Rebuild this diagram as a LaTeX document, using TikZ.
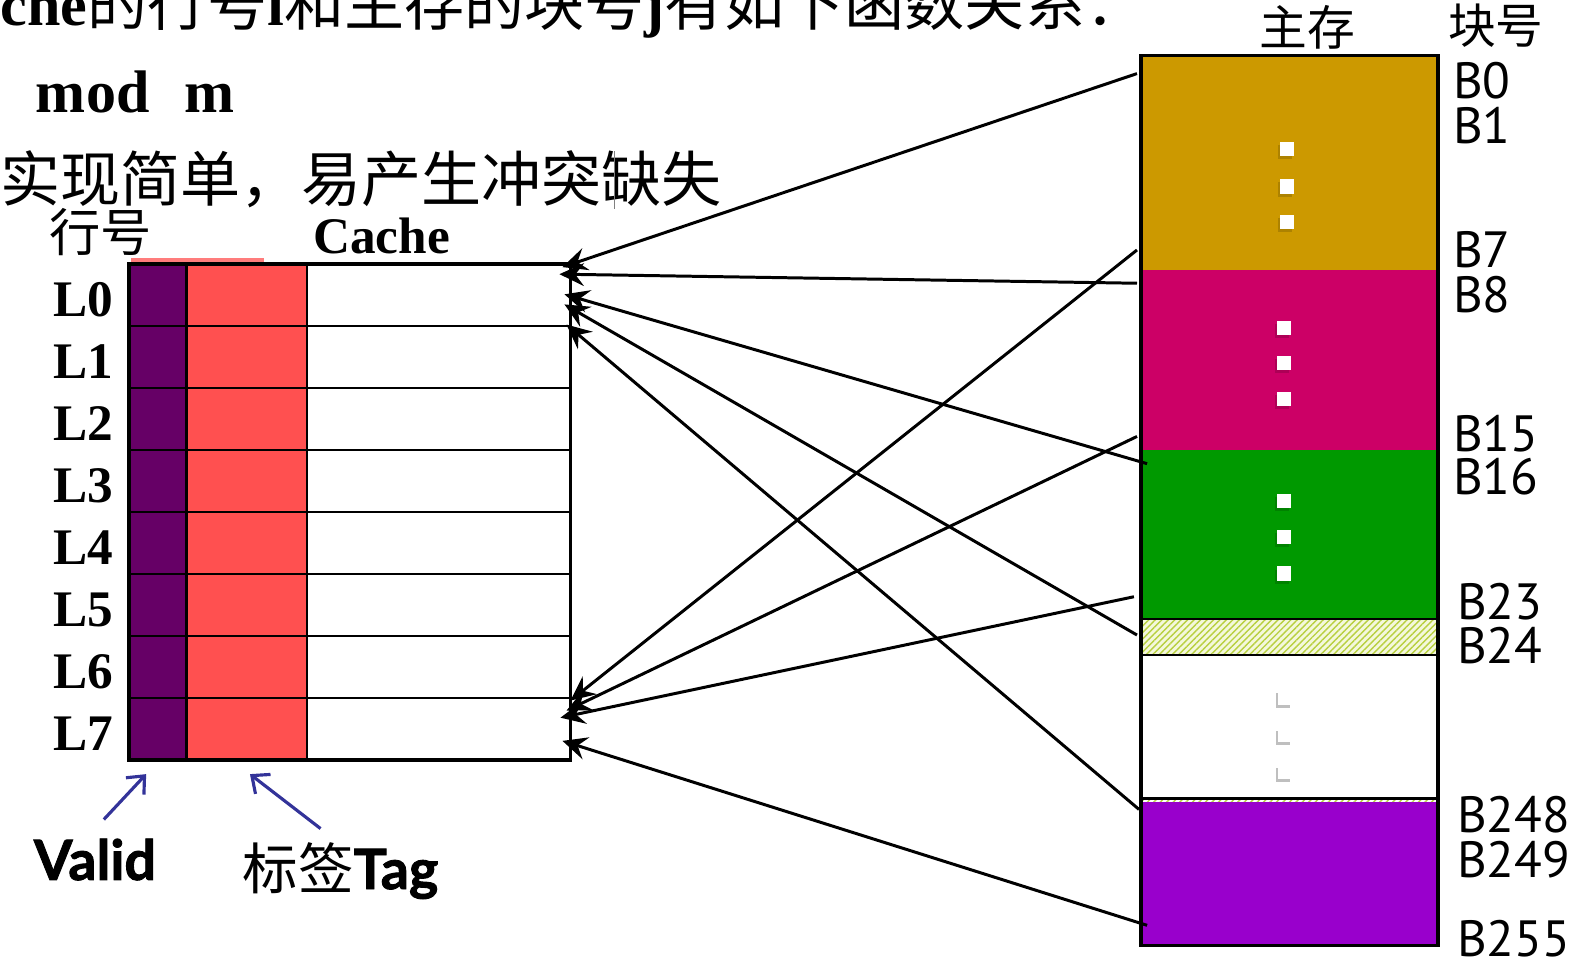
\documentclass[tikz,border=0pt]{standalone}
\usepackage{fontspec}
\setmainfont{Liberation Serif}
\newfontfamily\cjk{Noto Sans CJK SC}
\newfontfamily\blkfont{PT Sans}
\newfontfamily\lblfont[BoldFeatures={FakeBold=1.6}]{Lato}
\usetikzlibrary{arrows.meta,patterns.meta}
\definecolor{validpurple}{HTML}{660066}
\definecolor{tagred}{HTML}{FF5050}
\definecolor{goldblk}{HTML}{CC9900}
\definecolor{magblk}{HTML}{CC0066}
\definecolor{greenblk}{HTML}{009900}
\definecolor{violetblk}{HTML}{9900CC}
\definecolor{hatchline}{HTML}{B8D040}
\definecolor{hatchbg}{HTML}{F4F8DC}
\definecolor{arrowblue}{HTML}{333399}
\newcommand{\zh}[1]{{\cjk\mdseries #1}}
\begin{document}
\begin{tikzpicture}[x=0.01008cm, y=-0.01008cm,
		txt/.style={inner sep=0pt, anchor=base west},
		big/.style={font=\fontsize{17.1pt}{20pt}\selectfont},
		mid/.style={font=\fontsize{14.6pt}{17pt}\selectfont},
		blk/.style={inner sep=0pt, anchor=west, font=\blkfont\fontsize{14.5pt}{17pt}\selectfont},
		lbl/.style={inner sep=0pt, anchor=base west, font=\lblfont\bfseries\fontsize{15.8pt}{18pt}\selectfont},
		link/.style={line width=0.85pt, -{Stealth[length=7pt,width=6.5pt,inset=2.5pt]}},
		ptr/.style={line width=0.9pt, arrowblue, -{Straight Barb[length=4pt,width=7pt]}},
	]
	\useasboundingbox (0,0) rectangle (1567.5,960.3);

	% text at the top
	\node[txt, big] (head) at (0,25) {\bfseries che\zh{的行号}i\zh{和主存的块号}j\zh{有如下函数关系：}};
	\node[txt, big] (mod) at (35,112) {\bfseries mod\hspace{10pt}m};
	\node[txt, big] (note) at (0,200) {\zh{实现简单，易产生冲突缺失}};
	\draw[gray, line width=0.3pt] (610,150) -- (610,207);

	% cache
	\node[txt, mid] (linehead) at (48,250) {\zh{行号}};
	\node[txt, mid] (cachehead) at (310,251) {\bfseries Cache};
	\fill[tagred!75] (130,256) rectangle (262,260);
	\foreach \i in {0,...,7}
		{ \fill[validpurple] (128,262+61.5*\i) rectangle (185,262+61.5*\i+61.5);
		  \fill[tagred] (185,262+61.5*\i) rectangle (305,262+61.5*\i+61.5);
		  \node[txt, mid] (L\i) at (52,314+61.5*\i) {\bfseries L\i};}
	\foreach \i in {1,...,7}
		{ \draw[line width=0.6pt] (128,262+61.5*\i) -- (566,262+61.5*\i);}
	\draw[line width=0.6pt] (185,262) -- (185,754) (305,262) -- (305,754);
	\draw[line width=1.1pt] (128,262) rectangle (566,754);

	% valid / tag
	\node[lbl] (valid) at (33,873) {Valid};
	\node[lbl] (tag) at (240,882) {\zh{标签}Tag};
	\coordinate (vtip) at (145,768);  \coordinate (vfoot) at (103,813);
	\coordinate (ttip) at (248,768);  \coordinate (tfoot) at (318,822);
	\draw[ptr] (vfoot) -- (vtip);
	\draw[ptr] (tfoot) -- (ttip);

	% main memory
	\node[font=\cjk\fontsize{13.6pt}{16pt}\selectfont] (memhead) at (1297,27) {主存};
	\node[font=\cjk\fontsize{13.6pt}{16pt}\selectfont] (numhead) at (1484,25) {块号};
	\fill[goldblk] (1132,55) rectangle (1427,268);
	\fill[magblk] (1132,268) rectangle (1427,446);
	\fill[greenblk] (1132,446) rectangle (1427,614);
	\fill[hatchbg] (1132,614) rectangle (1427,650);
	\fill[pattern={Lines[angle=45,distance=1.3pt,line width=0.4pt]}, pattern color=hatchline] (1132,614) rectangle (1427,650);
	\fill[pattern={Lines[angle=45,distance=1.3pt,line width=0.4pt]}, pattern color=hatchline] (1132,792) rectangle (1427,796);
	\fill[violetblk] (1132,796) rectangle (1427,938);
	\draw[line width=0.6pt] (1132,614) -- (1427,614) (1132,650) -- (1427,650);
	\draw[line width=0.8pt] (1132,792) -- (1427,792);
	\draw[line width=1.1pt] (1132,55) rectangle (1427,938);
	\foreach \x/\y in {1277/148,1277/185,1277/220,1274/325,1274/360,1274/396,1274/497,1274/533,1274/569}
		{ \fill[black, opacity=0.15] (\x-9,\y-4) rectangle (\x+5,\y+10);
		  \fill[white] (\x-7,\y-7) rectangle (\x+7,\y+7);}
	\foreach \y in {692,729,766}
		{ \fill[black!25] (1266,\y-4) rectangle (1280,\y+10);
		  \fill[white] (1268,\y-7) rectangle (1282,\y+7);}

	\foreach \lab/\x/\y in {B0/1441/80,B1/1441/125,B7/1441/248,B8/1441/292,B15/1441/430,B16/1441/473,
			B23/1445/597,B24/1445/640,B248/1445/808,B249/1445/853,B255/1445/931}
		{ \node[blk] (\lab) at (\x,\y) {\lab};}

	% mapping lines
	\coordinate (m0) at (1128,73);    \coordinate (m7) at (1128,248);
	\coordinate (m8) at (1128,281);   \coordinate (m15) at (1128,433);
	\coordinate (m16) at (1138,460);  \coordinate (m23) at (1125,592);
	\coordinate (m24) at (1128,630);  \coordinate (m248) at (1130,803);
	\coordinate (m255) at (1138,918);
	\coordinate (c0a) at (558,265);   \coordinate (c0b) at (555,272);
	\coordinate (c0c) at (560,292);   \coordinate (c0d) at (560,302);
	\coordinate (c0e) at (562,322);
	\coordinate (c7a) at (566,695);   \coordinate (c7b) at (562,705);
	\coordinate (c7c) at (556,712);   \coordinate (c7d) at (558,735);
	\foreach \from/\to in {m0/c0a,m8/c0b,m16/c0c,m24/c0d,m248/c0e,m7/c7a,m15/c7b,m23/c7c,m255/c7d}
		{ \draw[link] (\from) -- (\to);}

\end{tikzpicture}
\end{document}
